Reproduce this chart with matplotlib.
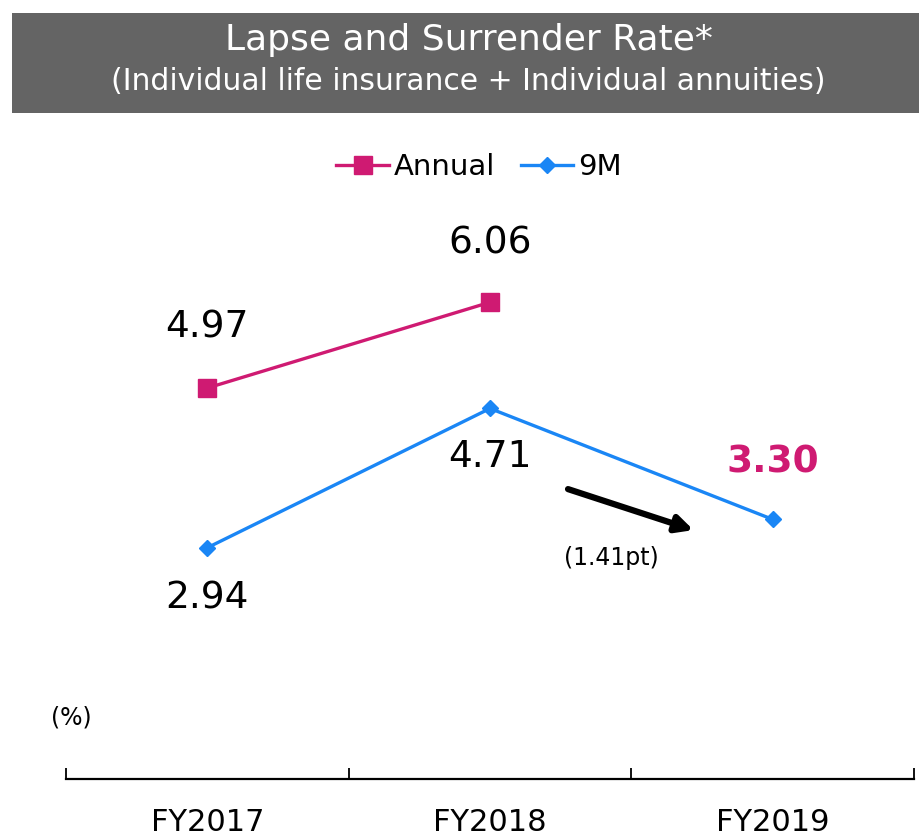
import numpy as np
import matplotlib.pyplot as plt
from matplotlib.patches import Rectangle

# data
years = ["FY2017", "FY2018", "FY2019"]
annual = [4.97, 6.06]
nine_m = [2.94, 4.71, 3.30]
change_label = "(1.41pt)"

c_annual = "#CF1A72"
c_9m = "#1A86F5"

fig = plt.figure(figsize=(9.19, 8.38), dpi=100)

# grey title banner
fig.patches.append(Rectangle((0.013, 0.865), 0.987, 0.1195, transform=fig.transFigure,
                             facecolor="#646464", edgecolor="none"))
fig.text(0.51, 0.952, "Lapse and Surrender Rate*", ha="center", va="center",
         color="white", fontsize=26)
fig.text(0.51, 0.903, "(Individual life insurance + Individual annuities)", ha="center",
         va="center", color="white", fontsize=21.5)

ax = fig.add_axes([0.0718, 0.0704, 0.9228, 0.7745])
x = np.arange(len(years))
ax.plot(x[:len(annual)], annual, color=c_annual, lw=2.4, marker="s", ms=13, label="Annual")
ax.plot(x, nine_m, color=c_9m, lw=2.4, marker="D", ms=8, label="9M")

ax.set_xlim(-0.5, 2.5)
ax.set_ylim(0, 8.25)

# value labels
ax.text(x[0], annual[0] + 0.77, f"{annual[0]:.2f}", ha="center", va="center", fontsize=27)
ax.text(x[1], annual[1] + 0.75, f"{annual[1]:.2f}", ha="center", va="center", fontsize=27)
ax.text(x[0], nine_m[0] - 0.65, f"{nine_m[0]:.2f}", ha="center", va="center", fontsize=27)
ax.text(x[1], nine_m[1] - 0.62, f"{nine_m[1]:.2f}", ha="center", va="center", fontsize=27)
ax.text(x[2], nine_m[2] + 0.72, f"{nine_m[2]:.2f}", ha="center", va="center", fontsize=27,
        color=c_annual, fontweight="bold")

# change arrow
ax.annotate("", xy=(1.72, 3.164), xytext=(1.276, 3.685),
            arrowprops=dict(arrowstyle="-|>,head_length=1.0,head_width=0.5", color="black",
                            lw=4.5, shrinkA=0, shrinkB=0))
ax.text(1.43, 2.81, change_label, ha="center", va="center", fontsize=17)

ax.text(-0.48, 0.78, "(%)", ha="center", va="center", fontsize=17)

# axes styling
for s in ["top", "left", "right"]:
    ax.spines[s].set_visible(False)
ax.spines["bottom"].set_linewidth(1.6)
ax.set_yticks([])
ax.set_xticks(x)
ax.set_xticklabels(years, fontsize=22)
ax.tick_params(axis="x", which="major", length=0, pad=21)
ax.set_xticks([-0.5, 0.5, 1.5, 2.5], minor=True)
ax.tick_params(axis="x", which="minor", direction="in", length=8, width=1.3)

ax.legend(loc="upper center", bbox_to_anchor=(0.487, 1.005), ncol=2, frameon=False, fontsize=21,
          handlelength=1.8, handletextpad=0.15, columnspacing=0.9)

fig.savefig("out.png", dpi=100)
